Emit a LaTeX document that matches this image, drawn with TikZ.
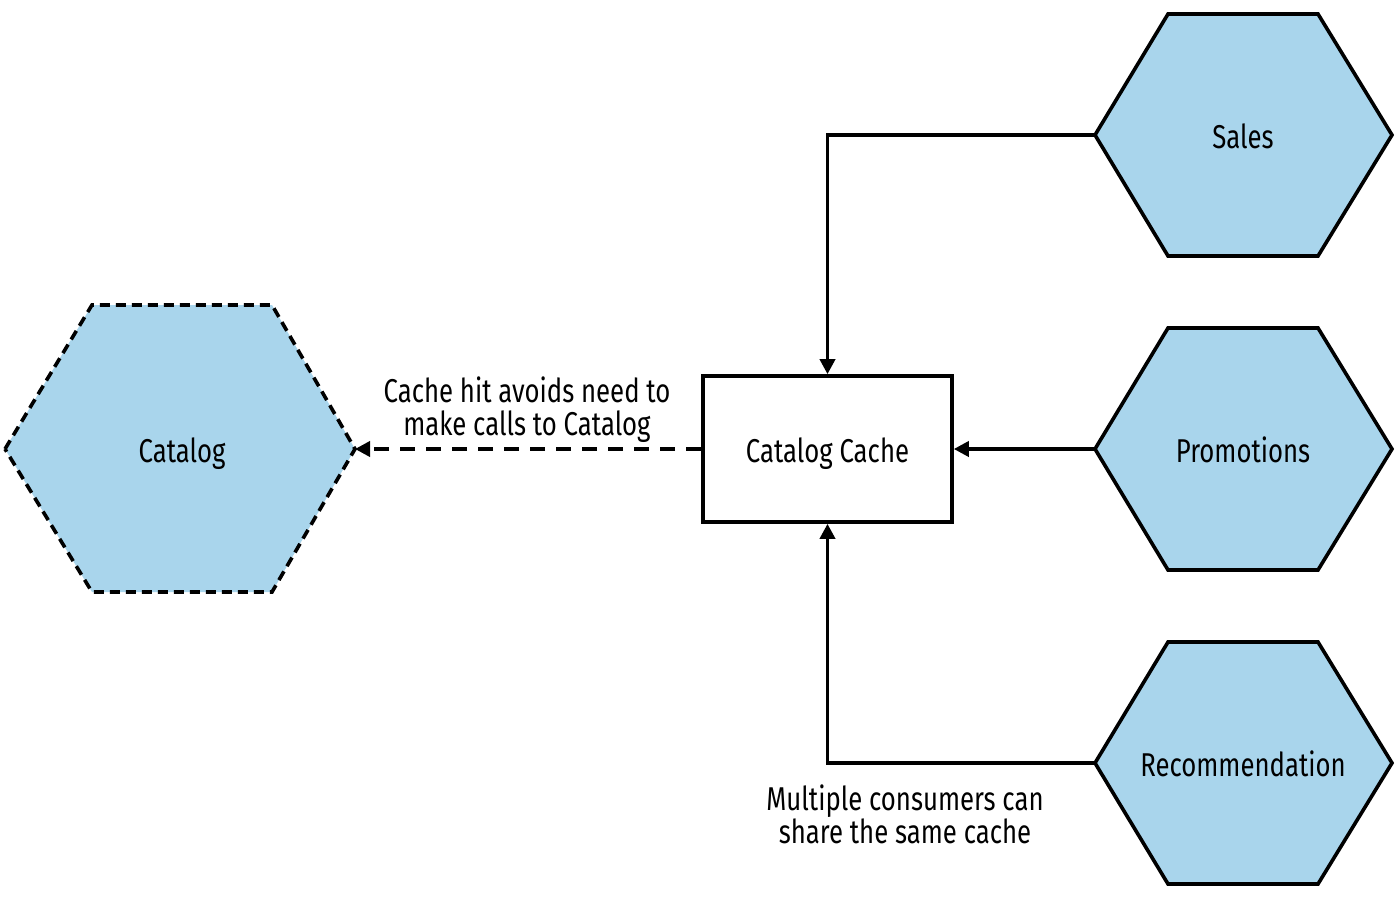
\documentclass[tikz,border=0pt]{standalone}
\usepackage{fontspec}
\setmainfont[FakeStretch=0.78]{Fira Sans}
\usetikzlibrary{arrows.meta}
\definecolor{hexblue}{HTML}{A9D5EC}
\begin{document}
\begin{tikzpicture}[x=1pt,y=-1pt,
  hexline/.style={draw=black,line width=3.6pt,fill=hexblue,line join=miter},
  lbl/.style={font=\fontsize{33}{33}\selectfont,text=black,inner sep=0pt,align=center},
  one/.style={lbl,text height=22.7pt,text depth=0pt},
  conn/.style={draw=black,line width=3.6pt,-{Triangle[length=15pt,width=15pt]}},
  dconn/.style={draw=black,line width=3.6pt,dash pattern=on 15pt off 11pt,-{Triangle[length=15pt,width=15pt]}}]
\useasboundingbox (0,0) rectangle (1400,904);
\fill[white] (0,0) rectangle (1400,904);
% hexagons
\draw[hexline] (1095,135) -- (1168,14) -- (1318,14) -- (1392,135) -- (1318,256) -- (1168,256) -- cycle;
\draw[hexline] (1095,449) -- (1168,328) -- (1318,328) -- (1392,449) -- (1318,570) -- (1168,570) -- cycle;
\draw[hexline] (1095,763) -- (1168,642) -- (1318,642) -- (1392,763) -- (1318,884) -- (1168,884) -- cycle;
\draw[hexline,dash pattern=on 10pt off 6pt] (5,449) -- (92,305) -- (272,305) -- (355,449) -- (272,592) -- (92,592) -- cycle;
\coordinate (salesW) at (1095,135);
\coordinate (promoW) at (1095,449);
\coordinate (recoW) at (1095,763);
\coordinate (catE) at (355,449);
\node[one] (sales) at (1243,137) {Sales};
\node[one] (promo) at (1243,451) {Promotions};
\node[one] (reco) at (1243,765) {Recommendation};
\node[one] (catalog) at (182,451) {Catalog};
\node[draw=black,line width=3.6pt,fill=white,minimum width=249pt,minimum height=146pt,inner sep=0pt] (cache) at (827.5,449) {};
\node[one] (cachetext) at (827.5,451) {Catalog Cache};
% connectors
\draw[conn] (salesW) -| (cache.north);
\draw[conn] (promoW) -- (cache.east);
\draw[conn] (recoW) -| (cache.south);
\draw[dconn] (cache.west) -- (catE);
% labels
\node[lbl] (hitlbl) at (527,410) {Cache hit avoids need to\\make calls to Catalog};
\node[lbl] (multlbl) at (905,814) {Multiple consumers can\\share the same cache};
\end{tikzpicture}
\end{document}
